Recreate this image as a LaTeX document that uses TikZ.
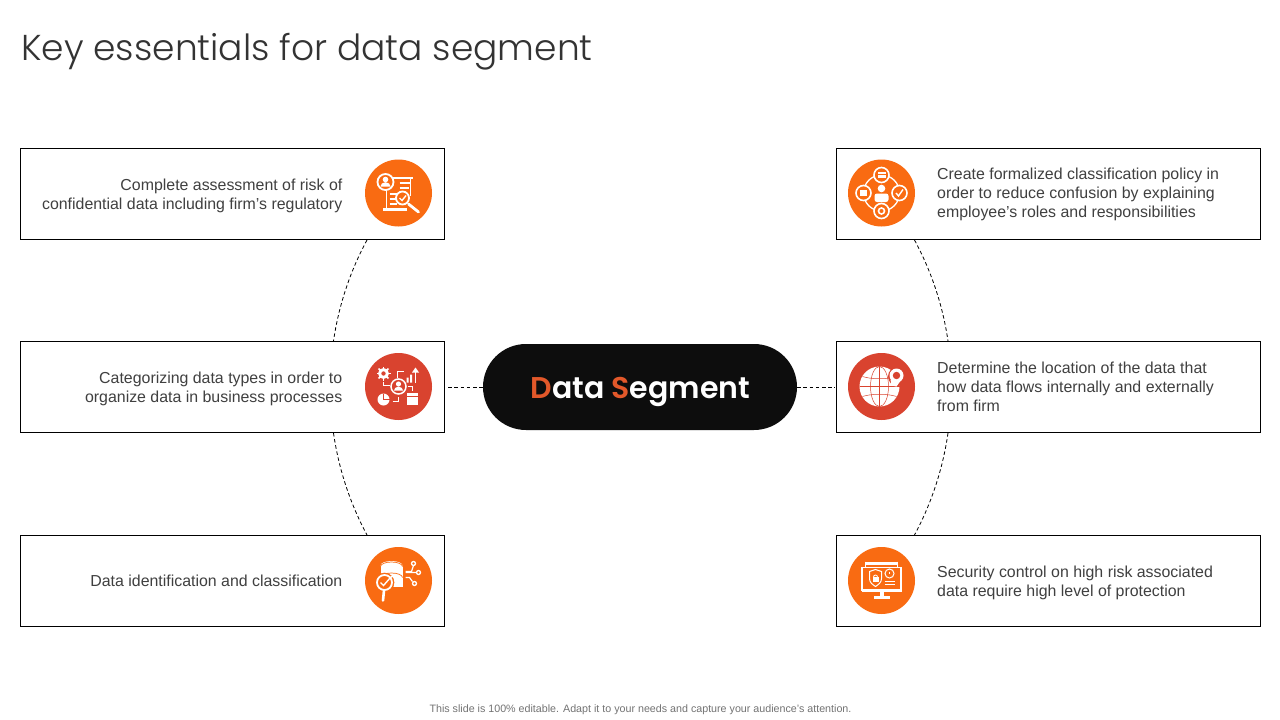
\documentclass[tikz,border=0pt]{standalone}
\usepackage{fontspec}
\setmainfont{Liberation Sans}
\newfontfamily\titlefont[UprightFont=* Light]{Poppins}
\newfontfamily\pillfont[UprightFont=* SemiBold]{Poppins}
\definecolor{orangeC}{HTML}{F96B12}
\definecolor{redC}{HTML}{D9432F}
\definecolor{pillC}{HTML}{0D0D0D}
\definecolor{txtC}{HTML}{404040}
\definecolor{pillO}{HTML}{E2582A}
\tikzset{
  card/.style={draw=black,line width=0.9pt,fill=white,minimum width=424.5pt,minimum height=91pt,inner sep=0pt},
  conn/.style={draw=black,line width=0.8pt,dash pattern=on 3.6pt off 2.6pt},
  badge/.style={circle,minimum size=67pt,inner sep=0pt},
  ltxt/.style={font=\fontsize{15.9}{19}\selectfont,text=txtC,align=left,anchor=west,inner sep=0pt},
  rtxt/.style={font=\fontsize{15.9}{19}\selectfont,text=txtC,align=right,anchor=east,inner sep=0pt},
  wl/.style={draw=white,line width=1.5pt,fill=none},
}
\begin{document}
\begin{tikzpicture}[x=1pt,y=-1pt]
\useasboundingbox (0,0) rectangle (1280,720);
\fill[white] (0,0) rectangle (1280,720);
\node[anchor=base west,inner sep=0pt,text=black!80,font=\fontsize{36}{44}\selectfont\titlefont] (title) at (21,60) {Key essentials for data segment};
% connectors
\coordinate (a1) at (367,240); \coordinate (a2) at (333.5,341);
\coordinate (a3) at (333.5,433); \coordinate (a4) at (367,535);
\coordinate (b1) at (914.5,240); \coordinate (b2) at (948,341);
\coordinate (b3) at (948,433); \coordinate (b4) at (914.5,535);
\draw[conn] (a1) to[bend right=10,looseness=.86] (a2);
\draw[conn] (a3) to[bend right=10,looseness=.86] (a4);
\draw[conn] (b1) to[bend left=10,looseness=.86] (b2);
\draw[conn] (b3) to[bend left=10,looseness=.86] (b4);
% cards
\node[card] (L1) at (232.5,194) {};
\node[card] (L2) at (232.5,387) {};
\node[card] (L3) at (232.5,581) {};
\node[card] (R1) at (1048.5,194) {};
\node[card] (R2) at (1048.5,387) {};
\node[card] (R3) at (1048.5,581) {};
% centre
\node[fill=pillC,rounded corners=43pt,minimum width=314pt,minimum height=86pt,inner sep=0pt] (pill) at (640,387) {};
\node[inner sep=0pt,anchor=base,text=white,font=\fontsize{30}{36}\selectfont\pillfont] (pilltxt) at (640.5,398) {\textcolor{pillO}{D}ata \textcolor{pillO}{S}egment};
\draw[conn,shorten <=3pt] (L2.east) -- (pill.west);
\draw[conn,shorten >=1pt] (pill.east) -- (R2.west);
% texts
\node[rtxt] (tL1) at (342.5,195.5) {Complete assessment of risk of\\confidential data including firm’s regulatory};
\node[rtxt] (tL2) at (342.5,388.5) {Categorizing data types in order to\\organize data in business processes};
\node[rtxt] (tL3) at (342.5,581) {Data identification and classification};
\node[ltxt] (tR1) at (937,194.5) {Create formalized classification policy in\\order to reduce confusion by explaining\\employee’s roles and responsibilities};
\node[ltxt] (tR2) at (937,386.5) {Determine the location of the data that\\how data flows internally and externally\\from firm};
\node[ltxt] (tR3) at (937,582.5) {Security control on high risk associated\\data require high level of protection};
\node[font=\fontsize{10.7}{12}\selectfont,text=black!55,inner sep=0pt] (foot) at (640.5,710) {This slide is 100\% editable. Adapt it to your needs and capture your audience's attention.};
% badges
\node[badge,fill=orangeC] (iL1) at (398.5,193) {};
\node[badge,fill=redC] (iL2) at (398.5,386.5) {};
\node[badge,fill=orangeC] (iL3) at (398.5,580.5) {};
\node[badge,fill=orangeC] (iR1) at (881.5,193) {};
\node[badge,fill=redC] (iR2) at (881.5,386.5) {};
\node[badge,fill=orangeC] (iR3) at (881.5,580.5) {};
% icon L1: document, person, magnifier
\begin{scope}[shift={(398.5,193)}]
 \draw[wl] (-8,-15) -- (14,-15) (12,-15) -- (12,3) (-12,-3) -- (-12,15);
 \fill[white] (-16,15) rectangle (8,18);
 \draw[wl] (1,-10) -- (11,-10) (1,-5)--(10,-5) (-9,1)--(-1,1) (-9,6)--(-3,6) (-9,11)--(-2,11);
 \draw[wl,fill=orangeC,line width=1.8pt] (-13,-11) circle (8);
 \fill[white] (-13,-13.5) circle (2.8);
 \fill[white] (-18,-6.5) arc (180:360:5 and 4.3) -- cycle;
 \draw[wl,fill=orangeC,line width=1.8pt] (4,5) circle (6.5);
 \draw[white,line width=1.4pt] (1,5) -- (3.5,7.5) -- (7.5,2.5);
 \draw[white,line width=2.8pt,line cap=round] (10,11) -- (20,19);
\end{scope}
% icon L2: process
\begin{scope}[shift={(398.5,386.5)}]
 \fill[white] (-15,-13) circle (5.5);
 \foreach \a in {0,45,...,315} \draw[white,line width=1.6pt] (-15,-13) -- ++(\a:7);
 \fill[redC] (-15,-13) circle (2.2);
 \draw[wl] (-15,-5) -- (-15,-1) -- (-9,-1);
 \draw[wl,fill=redC] (0,0) circle (7.5);
 \fill[white] (0,-2.5) circle (2.6);
 \fill[white] (-4.5,4) arc (180:360:4.5 and 3.8) -- cycle;
 \fill[white] (-15,13) circle (6);
 \draw[redC,line width=.8pt] (-15,7) -- (-15,13) -- (-9,13);
 \draw[wl] (-6,15) -- (0,15) -- (0,10);
 \draw[wl] (-1,-9) -- (-1,-15) -- (5,-15);
 \fill[white] (8,-9) rectangle (10,-4) (11.5,-12) rectangle (13.5,-4);
 \draw[white,line width=1.6pt] (17,-4) -- (17,-16);
 \fill[white] (13.5,-14) -- (17,-19) -- (20.5,-14) -- cycle;
 \draw[wl] (9,0) -- (14,0) -- (14,4);
 \fill[white] (8,6.5) rectangle (19,18);
 \draw[redC,line width=.7pt] (8,9.5) -- (19,9.5);
\end{scope}
% icon L3: database
\begin{scope}[shift={(398.5,580.5)}]
 \fill[white] (-18,-15) -- (-18,6) -- (4,6) -- (4,-15) -- cycle;
 \fill[white] (-7,-15) ellipse (11 and 4.5);
 \draw[orangeC,line width=.7pt] (-18,-14) arc (180:360:11 and 4.5);
 \draw[orangeC,line width=.7pt] (-18,-3) arc (180:360:11 and 4.5);
 \draw[white,line width=1.2pt] (7,-9) -- (13,-9) -- (15,-15) (7,-8) -- (18,-8) (7,-3) -- (11,-3) -- (14,1);
 \draw[wl,line width=1.3pt] (15,-17) circle (2);
 \draw[wl,line width=1.3pt] (20,-8) circle (2);
 \draw[wl,line width=1.3pt] (16,3) circle (2);
 \draw[orangeC,fill=orangeC,line width=.6pt] (-14,2) circle (9.5);
 \draw[wl,line width=1.8pt] (-14,2) circle (7.5);
 \draw[white,line width=1.4pt] (-18,2) -- (-15,5) -- (-8,-3) (-8,-3) -- (-3,-6);
 \draw[white,line width=2.6pt,line cap=round] (-14.5,10) -- (-15.5,20);
\end{scope}
% icon R1: ring
\begin{scope}[shift={(881.5,193)}]
 \draw[wl,line width=1.3pt] (0,0) circle (18);
 \foreach \p in {(0,-18),(-18,0),(18,0),(0,18)} \draw[wl,fill=orangeC,line width=1.6pt] \p circle (7.5);
 \fill[white] (-4,-21) rectangle (4,-15);
 \draw[orangeC,line width=.7pt] (-4,-19) -- (4,-19);
 \fill[white] (-21.5,-3) rectangle (-14.5,3);
 \draw[white,line width=1.4pt] (14.5,0) -- (17,3) -- (21.5,-3.5);
 \draw[white,line width=1.6pt] (0,18) circle (3);
 \fill[white] (0,-4.5) circle (3.8);
 \fill[white,rounded corners=2.5pt] (-7,9) rectangle (7,0.5);
\end{scope}
% icon R2: globe
\begin{scope}[shift={(881.5,386.5)}]
 \fill[white] (-2,0) circle (20);
 \begin{scope}[redC,line width=.5pt]
  \draw (-2,0) ellipse (9 and 20);
  \draw (-2,-20) -- (-2,20);
  \draw[line width=1pt] (-22,0) -- (18,0);
  \draw (-19,-10) .. controls (-10,-7) and (6,-7) .. (15,-10);
  \draw (-19,10) .. controls (-10,7) and (6,7) .. (15,10);
 \end{scope}
 \fill[redC] (16,-10) circle (9.5);
 \fill[white] (15,-11) circle (7) ;
 \fill[white] (9,-7) -- (10,-1) -- (15,0) -- (20,-7) -- cycle;
 \fill[redC] (15,-11) circle (3.7);
\end{scope}
% icon R3: monitor
\begin{scope}[shift={(881.5,580.5)}]
 \draw[wl,line width=1.8pt] (-19.5,-13) rectangle (19.5,9.5);
 \fill[white] (-16,-19) rectangle (16,-16);
 \draw[white,line width=1pt] (-16,-19) -- (-16,-13) (16,-19) -- (16,-13);
 \fill[white] (-20,9) rectangle (20,11);
 \fill[white] (-2,11) rectangle (2,16);
 \fill[white] (-8,15.5) rectangle (8,18);
 \draw[white,line width=1pt] (-12,-9) -- (-6,-11) -- (0,-9) -- (0,-2) .. controls (0,2) and (-3,4) .. (-6,6) .. controls (-9,4) and (-12,2) .. (-12,-2) -- cycle;
 \fill[white] (-9,-3.5) rectangle (-3,1.5);
 \draw[white,line width=.8pt] (-6,-3.5) circle (2);
 \draw[white,line width=1pt] (8,-7) circle (4.5);
 \draw[white,line width=.8pt] (8,-9) -- (8,-6.5);
 \draw[white,line width=1pt] (3,1) -- (13,1) (3,4) -- (13,4);
\end{scope}
\end{tikzpicture}
\end{document}
